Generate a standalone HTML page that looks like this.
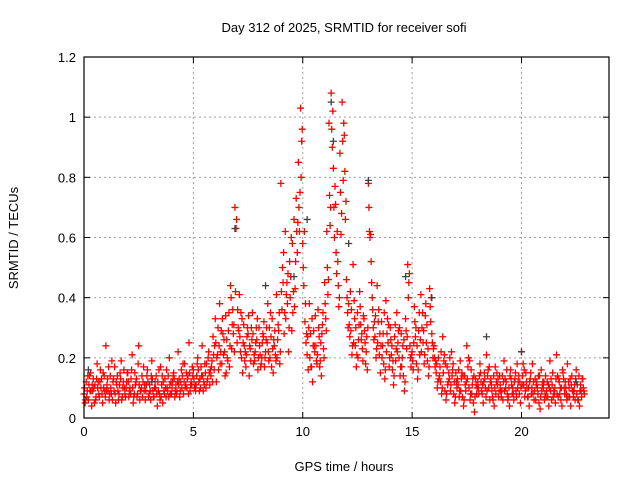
<!DOCTYPE html>
<html><head><meta charset="utf-8"><style>
body{margin:0;background:#fff}
svg{display:block;font-family:"Liberation Sans",sans-serif}
</style></head><body>
<svg id="chart" width="640" height="480">
<text x="344" y="32" text-anchor="middle" font-size="13">Day 312 of 2025, SRMTID for receiver sofi</text>
<text x="344" y="471" text-anchor="middle" font-size="13">GPS time / hours</text>
<text transform="translate(18,238) rotate(-90)" text-anchor="middle" font-size="13">SRMTID / TECUs</text>
<g id="grid"></g><g id="ticks"></g><g id="pts"></g>
<rect x="84" y="57" width="525" height="361" fill="none" stroke="#000" stroke-width="1.2"/>
</svg>
<script>
const xTicks=[0,5,10,15,20];
const yTicks=[0,0.2,0.4,0.6,0.8,1,1.2];
const yTickLabels=["0","0.2","0.4","0.6","0.8","1","1.2"];
const seriesA=[0.08,0.12,0.06,0.15,0.09,0.11,0.18,0.07,0.13,0.10,
0.24,0.09,0.14,0.06,0.17,0.11,0.08,0.19,0.12,0.07,
0.15,0.10,0.21,0.08,0.13,0.24,0.09,0.12,0.06,0.16,
0.11,0.19,0.07,0.14,0.09,0.17,0.05,0.13,0.10,0.20,
0.08,0.15,0.11,0.22,0.09,0.14,0.18,0.10,0.25,0.12,
0.16,0.09,0.20,0.13,0.24,0.11,0.18,0.22,0.14,0.27,
0.33,0.21,0.38,0.18,0.26,0.15,0.29,0.44,0.36,0.70,
0.25,0.41,0.20,0.31,0.17,0.28,0.23,0.35,0.19,0.26,
0.30,0.18,0.27,0.22,0.38,0.20,0.33,0.24,0.41,0.29,
0.78,0.45,0.62,0.38,0.52,0.29,0.66,0.73,0.85,1.03,
0.58,0.32,0.21,0.38,0.17,0.29,0.24,0.36,0.19,0.31,
0.45,0.62,0.98,1.08,0.83,0.71,0.52,0.88,1.05,0.94,
0.46,0.38,0.29,0.51,0.24,0.35,0.42,0.28,0.33,0.22,
0.78,0.61,0.36,0.27,0.44,0.21,0.32,0.18,0.39,0.25,
0.30,0.16,0.27,0.35,0.20,0.28,0.14,0.33,0.51,0.24,
0.22,0.37,0.18,0.29,0.41,0.25,0.34,0.19,0.43,0.28,
0.24,0.15,0.20,0.12,0.27,0.09,0.17,0.13,0.22,0.08,
0.15,0.11,0.19,0.07,0.14,0.24,0.10,0.16,0.05,0.13,
0.12,0.18,0.08,0.15,0.21,0.10,0.13,0.06,0.17,0.11,
0.14,0.09,0.19,0.12,0.07,0.16,0.10,0.13,0.18,0.08,
0.22,0.11,0.15,0.07,0.13,0.18,0.09,0.12,0.05,0.16,
0.10,0.14,0.07,0.19,0.11,0.08,0.21,0.13,0.06,0.15,
0.12,0.18,0.07,0.14,0.09,0.16,0.06,0.11,0.13];
const seriesB=[0.05,0.09,0.14,0.04,0.10,0.07,0.12,0.16,0.05,0.09,
0.11,0.06,0.08,0.13,0.05,0.09,0.15,0.07,0.10,0.12,
0.07,0.13,0.05,0.11,0.08,0.06,0.14,0.09,0.11,0.07,
0.06,0.09,0.12,0.04,0.08,0.11,0.09,0.07,0.14,0.08,
0.12,0.07,0.09,0.13,0.16,0.08,0.11,0.14,0.09,0.17,
0.10,0.14,0.12,0.17,0.09,0.15,0.13,0.11,0.19,0.16,
0.12,0.16,0.22,0.28,0.14,0.20,0.17,0.23,0.31,0.63,
0.30,0.22,0.15,0.19,0.27,0.14,0.30,0.18,0.25,0.16,
0.21,0.25,0.17,0.30,0.19,0.27,0.15,0.21,0.26,0.18,
0.36,0.28,0.41,0.22,0.47,0.35,0.43,0.55,0.62,0.92,
0.44,0.25,0.16,0.28,0.12,0.22,0.18,0.27,0.14,0.23,
0.33,0.41,0.64,0.90,0.60,0.48,0.37,0.61,0.79,0.66,
0.35,0.27,0.21,0.39,0.17,0.26,0.31,0.19,0.25,0.16,
0.62,0.45,0.26,0.20,0.32,0.15,0.24,0.13,0.28,0.17,
0.21,0.11,0.19,0.25,0.14,0.20,0.09,0.23,0.45,0.17,
0.16,0.27,0.13,0.21,0.30,0.18,0.25,0.14,0.32,0.20,
0.17,0.10,0.14,0.08,0.19,0.06,0.12,0.09,0.16,0.05,
0.10,0.07,0.13,0.04,0.09,0.17,0.06,0.11,0.02,0.08,
0.08,0.12,0.05,0.10,0.14,0.06,0.09,0.04,0.12,0.07,
0.09,0.06,0.13,0.08,0.04,0.11,0.06,0.09,0.12,0.05,
0.14,0.07,0.10,0.04,0.08,0.12,0.06,0.08,0.03,0.11,
0.06,0.09,0.04,0.13,0.07,0.05,0.14,0.08,0.04,0.10,
0.08,0.12,0.04,0.09,0.06,0.11,0.04,0.07,0.09];
const seriesC=[0.10,0.07,0.11,0.09,0.13,0.06,0.10,0.12,0.08,0.14,
0.09,0.17,0.10,0.12,0.08,0.14,0.11,0.06,0.16,0.10,
0.12,0.08,0.10,0.15,0.07,0.11,0.10,0.17,0.09,0.12,
0.09,0.13,0.10,0.08,0.16,0.07,0.12,0.10,0.09,0.11,
0.10,0.13,0.08,0.11,0.12,0.18,0.10,0.13,0.15,0.11,
0.13,0.11,0.16,0.10,0.14,0.18,0.12,0.15,0.17,0.21,
0.25,0.30,0.18,0.33,0.22,0.26,0.35,0.40,0.28,0.42,
0.36,0.27,0.33,0.24,0.21,0.34,0.19,0.28,0.22,0.33,
0.24,0.20,0.32,0.26,0.22,0.35,0.23,0.29,0.20,0.35,
0.42,0.55,0.33,0.48,0.40,0.58,0.37,0.62,0.70,0.80,
0.50,0.38,0.27,0.20,0.33,0.24,0.19,0.30,0.25,0.35,
0.38,0.50,0.74,0.96,0.70,0.55,0.44,0.75,0.92,0.82,
0.40,0.31,0.36,0.25,0.30,0.20,0.37,0.23,0.29,0.27,
0.70,0.52,0.30,0.34,0.25,0.28,0.20,0.35,0.22,0.31,
0.26,0.19,0.31,0.22,0.30,0.17,0.26,0.29,0.40,0.20,
0.19,0.32,0.24,0.35,0.22,0.29,0.38,0.23,0.37,0.25,
0.20,0.18,0.13,0.22,0.15,0.18,0.11,0.20,0.14,0.12,
0.12,0.16,0.09,0.14,0.11,0.13,0.19,0.08,0.14,0.11,
0.10,0.15,0.11,0.13,0.09,0.17,0.11,0.14,0.08,0.13,
0.11,0.14,0.09,0.16,0.10,0.13,0.08,0.15,0.10,0.12,
0.11,0.16,0.12,0.10,0.15,0.08,0.13,0.10,0.14,0.09,
0.12,0.07,0.11,0.09,0.15,0.10,0.08,0.12,0.10,0.13,
0.10,0.07,0.13,0.09,0.11,0.08,0.14,0.09,0.10];
const seriesD=[0.06,0.14,0.09,0.11,0.05,0.13,0.08,0.10,0.15,0.07,
0.13,0.08,0.19,0.09,0.12,0.06,0.13,0.10,0.08,0.15,
0.09,0.16,0.07,0.12,0.18,0.09,0.07,0.11,0.14,0.08,
0.14,0.07,0.10,0.12,0.06,0.14,0.08,0.16,0.07,0.12,
0.14,0.09,0.12,0.07,0.10,0.12,0.15,0.08,0.11,0.14,
0.11,0.18,0.09,0.14,0.12,0.10,0.20,0.16,0.12,0.24,
0.20,0.24,0.29,0.21,0.34,0.19,0.24,0.31,0.22,0.66,
0.29,0.35,0.25,0.22,0.30,0.24,0.26,0.21,0.30,0.20,
0.17,0.28,0.20,0.25,0.30,0.17,0.26,0.19,0.31,0.22,
0.50,0.35,0.45,0.30,0.60,0.42,0.52,0.65,0.75,0.96,
0.62,0.28,0.30,0.17,0.24,0.34,0.21,0.17,0.28,0.20,
0.29,0.46,0.70,1.02,0.77,0.62,0.40,0.68,0.98,0.72,
0.30,0.42,0.24,0.33,0.21,0.31,0.26,0.34,0.18,0.30,
0.60,0.40,0.32,0.23,0.36,0.24,0.28,0.16,0.33,0.20,
0.24,0.14,0.23,0.29,0.17,0.24,0.12,0.27,0.48,0.21,
0.25,0.30,0.16,0.26,0.35,0.21,0.31,0.17,0.40,0.23,
0.19,0.12,0.17,0.10,0.21,0.08,0.15,0.11,0.18,0.07,
0.13,0.09,0.15,0.06,0.12,0.20,0.08,0.13,0.07,0.10,
0.14,0.09,0.12,0.07,0.16,0.12,0.07,0.10,0.15,0.09,
0.07,0.12,0.10,0.06,0.14,0.08,0.12,0.07,0.14,0.10,
0.18,0.09,0.07,0.12,0.10,0.06,0.11,0.14,0.07,0.12,
0.08,0.12,0.10,0.06,0.09,0.13,0.07,0.10,0.16,0.08,
0.06,0.10,0.11,0.07,0.13,0.06,0.09,0.13,0.08];
const grayTimes=[0.2,3.1,6.9,8.3,9.6,10.2,11.3,11.4,12.1,13.0,14.7,15.9,18.4,20.0,22.5];
const grayValues=[0.16,0.12,0.63,0.44,0.47,0.66,1.05,0.92,0.58,0.79,0.47,0.40,0.27,0.22,0.12];

const X0=84,X1=609,Y0=418,Y1=57,XMAX=24,YMAX=1.2;
const sx=v=>X0+v/XMAX*(X1-X0);
const sy=v=>Y0-v/YMAX*(Y0-Y1);
const NS="http://www.w3.org/2000/svg";
function mk(tag,attrs,parent){const e=document.createElementNS(NS,tag);for(const k in attrs)e.setAttribute(k,attrs[k]);parent.appendChild(e);return e;}
const grid=document.getElementById('grid'),ticks=document.getElementById('ticks'),pts=document.getElementById('pts');
xTicks.forEach(t=>{
  const x=sx(t);
  if(t>0){const g=mk('line',{x1:x,x2:x,y1:Y1,y2:Y0,stroke:'#a0a0a0','stroke-dasharray':'2,3'},grid);
  
  }
  mk('line',{x1:x,x2:x,y1:Y0,y2:Y0-6,stroke:'#000'},ticks);
  mk('line',{x1:x,x2:x,y1:Y1,y2:Y1+6,stroke:'#000'},ticks);
  const l=mk('text',{x:x,y:Y0+18,'text-anchor':'middle','font-size':'13'},ticks);l.textContent=t;
  
  
});
yTicks.forEach((t,i)=>{
  const y=sy(t);
  if(t>0&&t<YMAX){const g=mk('line',{x1:X0,x2:X1,y1:y,y2:y,stroke:'#a0a0a0','stroke-dasharray':'2,3'},grid);
  
  }
  mk('line',{x1:X0,x2:X0+6,y1:y,y2:y,stroke:'#000'},ticks);
  mk('line',{x1:X1,x2:X1-6,y1:y,y2:y,stroke:'#000'},ticks);
  const l=mk('text',{x:X0-8,y:y+5,'text-anchor':'end','font-size':'13'},ticks);l.textContent=yTickLabels[i];
  
  
});
function plus(t,v,color,name){
  const x=sx(t),y=sy(v);
  const p=mk('path',{d:`M${x-3.5},${y}h7M${x},${y-3.5}v7`,stroke:color,'stroke-width':'1.3',fill:'none'},pts);
  
  
}
seriesA.forEach((v,i)=>plus(i*0.1,v,'#ff0000','srmtid-point'));
seriesC.forEach((v,i)=>plus(i*0.1+0.025,v,'#ff0000','srmtid-point'));
seriesB.forEach((v,i)=>plus(i*0.1+0.05,v,'#ff0000','srmtid-point'));
seriesD.forEach((v,i)=>plus(i*0.1+0.075,v,'#ff0000','srmtid-point'));
grayTimes.forEach((t,i)=>plus(t,grayValues[i],'#404040','srmtid-point-alt'));
</script>
</body></html>
